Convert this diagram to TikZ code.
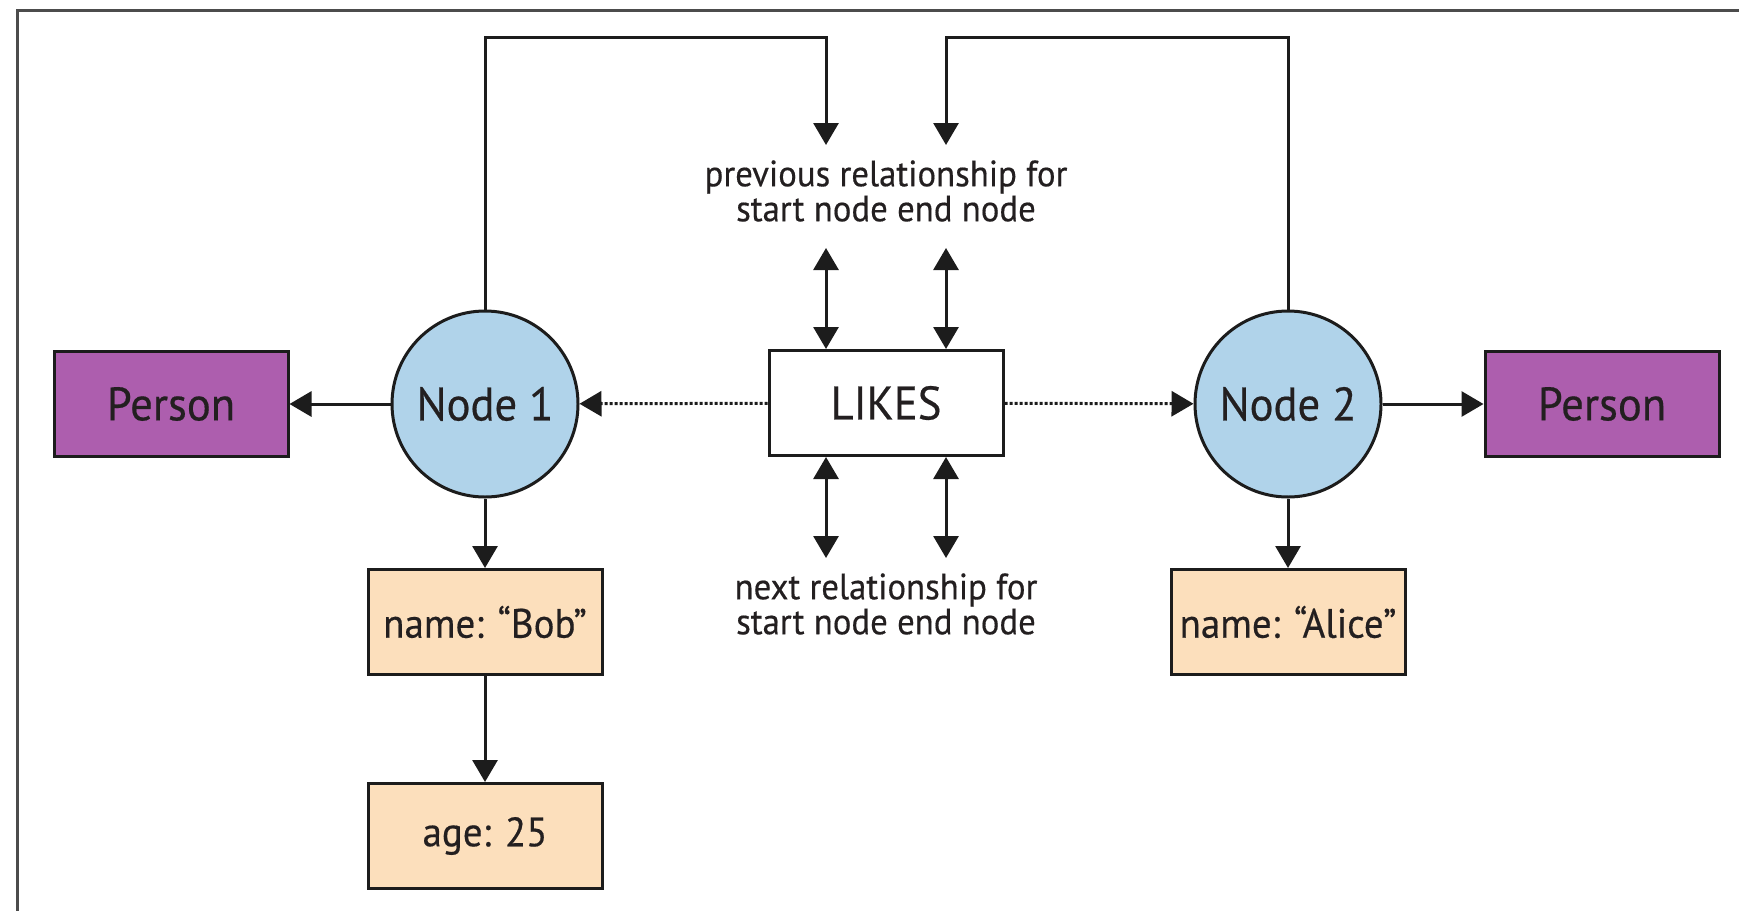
\documentclass[tikz,border=0pt]{standalone}
\usepackage{fontspec}
\setmainfont{PT Sans}[FakeStretch=0.95, FakeBold=0.4]
\usetikzlibrary{calc}
\usetikzlibrary{arrows.meta}

\definecolor{personfill}{HTML}{AD5EAE}
\definecolor{nodefill}{HTML}{B0D3EA}
\definecolor{propfill}{HTML}{FCDFBC}
\definecolor{edgegray}{HTML}{1C1C1C}
\definecolor{textgray}{HTML}{231F20}

\tikzset{
 box/.style={draw=edgegray, line width=1.5pt, minimum width=117pt, minimum height=52.5pt,
   inner sep=0pt, text=textgray, font=\fontsize{23.5}{25}\selectfont},
 person/.style={box, fill=personfill},
 rel/.style={box, fill=white},
 prop/.style={box, fill=propfill, font=\fontsize{20.5}{22}\selectfont},
 graphnode/.style={circle, draw=edgegray, line width=1.5pt, fill=nodefill, minimum size=93pt,
   inner sep=0pt, text=textgray, font=\fontsize{23.5}{25}\selectfont},
 caption/.style={align=center, text=textgray, font=\fontsize{18.3}{17.5}\selectfont},
 arr/.style={->, line width=1.5pt, edgegray},
 dbl/.style={<->, line width=1.5pt, edgegray},
 dots/.style={->, line width=1.5pt, edgegray, dash pattern=on 1.5pt off 1pt}
}

\begin{document}
\begin{tikzpicture} [x=0.5pt, y=-0.5pt, >={Triangle[width=12.5pt,length=11pt]}]

\useasboundingbox (0,0) rectangle (1739,910);
\draw[gray!60!black, line width=1.5pt] (17,10) rectangle (1800,1000);

\node[graphnode] (n1) at (485,404) {Node 1};
\node[graphnode] (n2) at (1288,404) {Node 2};
\node[rel] (likes) at (886,403) {LIKES};
\node[person] (p1) at (171,404) {Person};
\node[person] (p2) at (1602,404) {Person};
\node[prop] (bob) at (485,622) {name: “Bob”};
\node[prop] (age) at (485,836) {age: 25};
\node[prop] (alice) at (1288,622) {name: “Alice”};

\node[caption] (prev) at (886,191) {previous relationship for\\start node end node};
\node[caption] (next) at (886,604) {next relationship for\\start node end node};

\draw[arr] (n1) -- (p1);
\draw[arr] (n2) -- (p2);
\draw[arr] (n1) -- (bob);
\draw[arr] (bob) -- (age);
\draw[arr] (n2) -- (alice);
\draw[dots] (likes) -- (n1);
\draw[dots] (likes) -- (n2);

\coordinate (top) at (0,37);
\coordinate (pa) at (826,145);
\coordinate (pb) at (946,145);
\draw[arr] (n1.north) -- (n1.north |- top) -| (pa);
\draw[arr] (n2.north) -- (n2.north |- top) -| (pb);

\foreach \x [count=\i] in {826, 946} {
 \coordinate (up\i) at (\x,248);
 \coordinate (dn\i) at (\x,558);
 \draw[dbl] (up\i) -- (up\i |- likes.north);
 \draw[dbl] (likes.south -| dn\i) -- (dn\i);
};
\end{tikzpicture}
\end{document}
